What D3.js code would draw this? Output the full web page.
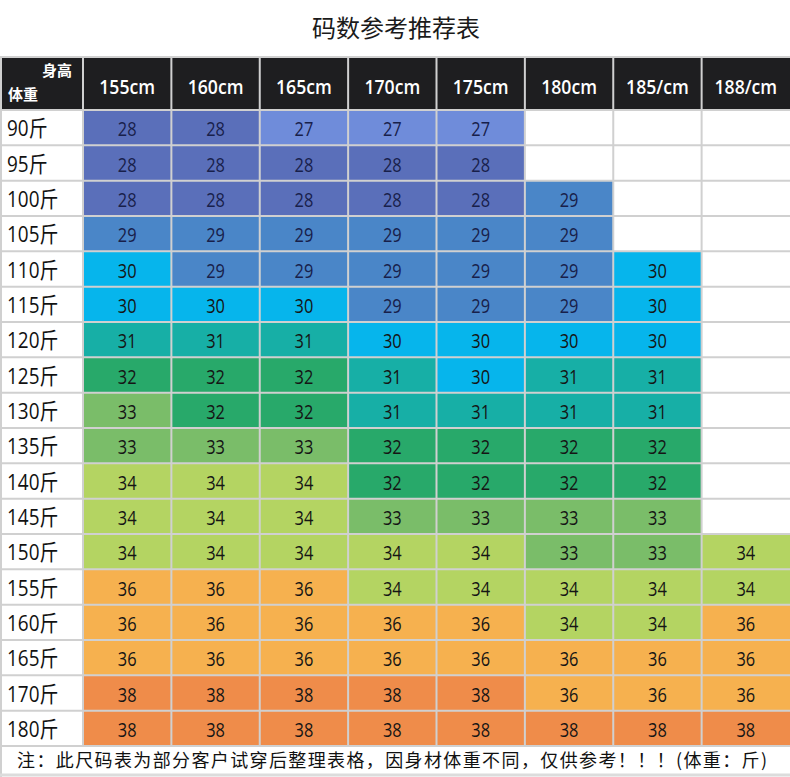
<!DOCTYPE html>
<html>
<head>
<meta charset="utf-8">
<script src="https://cdn.jsdelivr.net/npm/d3@7"></script>
<style>
  html, body { margin: 0; padding: 0; background: #fff; }
  svg { display: block; }
</style>
</head>
<body>
<svg id="chart" width="790" height="777"></svg>
<script>
// ---- data ----
const title = "码数参考推荐表";
const heights = ["155cm", "160cm", "165cm", "170cm", "175cm", "180cm", "185/cm", "188/cm"];
const weights = ["90斤", "95斤", "100斤", "105斤", "110斤", "115斤", "120斤", "125斤", "130斤",
                 "135斤", "140斤", "145斤", "150斤", "155斤", "160斤", "165斤", "170斤", "180斤"];
// null = empty cell
const sizes = [
  [28, 28, 27, 27, 27, null, null, null],
  [28, 28, 28, 28, 28, null, null, null],
  [28, 28, 28, 28, 28, 29, null, null],
  [29, 29, 29, 29, 29, 29, null, null],
  [30, 29, 29, 29, 29, 29, 30, null],
  [30, 30, 30, 29, 29, 29, 30, null],
  [31, 31, 31, 30, 30, 30, 30, null],
  [32, 32, 32, 31, 30, 31, 31, null],
  [33, 32, 32, 31, 31, 31, 31, null],
  [33, 33, 33, 32, 32, 32, 32, null],
  [34, 34, 34, 32, 32, 32, 32, null],
  [34, 34, 34, 33, 33, 33, 33, null],
  [34, 34, 34, 34, 34, 33, 33, 34],
  [36, 36, 36, 34, 34, 34, 34, 34],
  [36, 36, 36, 36, 36, 34, 34, 36],
  [36, 36, 36, 36, 36, 36, 36, 36],
  [38, 38, 38, 38, 38, 36, 36, 36],
  [38, 38, 38, 38, 38, 38, 38, 38]
];
const sizeKeys   = [27, 28, 29, 30, 31, 32, 33, 34, 36, 38];
const sizeColors = ["#6f8cda", "#5a6fba", "#4a86c8", "#06b5ec", "#17afa6",
                    "#28a96a", "#7abd69", "#b4d462", "#f6b14f", "#ef8c4a"];
const cornerTop = "身高";
const cornerBottom = "体重";
const footnote = "注：此尺码表为部分客户试穿后整理表格，因身材体重不同，仅供参考！！！(体重：斤)";

// ---- layout ----
const W = 790, H = 777;
const labelW = 83;
const headTop = 57, headBottom = 110, bodyBottom = 746;
const grid = "#d0d0d0";
const numFont = "'Open Sans', 'Noto Sans CJK SC', sans-serif";
const cjkFont = "'Noto Sans CJK SC', sans-serif";

const svg = d3.select("#chart");

const x = d3.scaleBand().domain(heights).range([labelW, W]).paddingInner(0);
const y = d3.scaleBand().domain(weights).range([headBottom, bodyBottom]).paddingInner(0);
const color = d3.scaleOrdinal().domain(sizeKeys).range(sizeColors);
const blueish = new Set([27, 28, 29]);

// title
svg.append("text")
  .attr("x", W / 2 + 1).attr("y", 37)
  .attr("text-anchor", "middle")
  .style("font-family", cjkFont).style("font-size", "24px").style("fill", "#1a1a1a")
  .text(title);

// header background
svg.append("rect")
  .attr("x", 0).attr("y", headTop).attr("width", W).attr("height", headBottom - headTop)
  .attr("fill", "#1e1e20");

// cells
const cells = [];
sizes.forEach((row, i) => row.forEach((v, j) => cells.push({ w: weights[i], h: heights[j], v })));

svg.append("g").selectAll("rect").data(cells).join("rect")
  .attr("x", d => x(d.h)).attr("y", d => y(d.w))
  .attr("width", x.bandwidth()).attr("height", y.bandwidth())
  .attr("fill", d => d.v == null ? "#ffffff" : color(d.v));

// grid lines
const gl = svg.append("g").attr("stroke", grid).attr("stroke-width", 2);
[headTop, headBottom].concat(weights.map(w => y(w) + y.bandwidth())).forEach(yy => {
  gl.append("line").attr("x1", 0).attr("x2", W).attr("y1", yy).attr("y2", yy);
});
[1, labelW].concat(heights.map(h => x(h))).forEach(xx => {
  gl.append("line").attr("x1", xx).attr("x2", xx).attr("y1", headTop).attr("y2", bodyBottom);
});
gl.append("line").attr("x1", 1).attr("x2", 1).attr("y1", bodyBottom).attr("y2", H);
gl.append("line").attr("x1", 0).attr("x2", W).attr("y1", H - 2).attr("y2", H - 2)
  .attr("stroke-width", 3).attr("stroke", "#dcdcdc");

// header labels
svg.append("g").selectAll("text").data(heights).join("text")
  .attr("transform", d => `translate(${x(d) + x.bandwidth() / 2},${headBottom - 16}) scale(0.86,1)`)
  .attr("text-anchor", "middle")
  .style("font-family", numFont).style("font-size", "20.5px").style("font-weight", "600")
  .style("fill", "#ffffff")
  .text(d => d);

svg.append("text").attr("x", 72).attr("y", 76).attr("text-anchor", "end")
  .style("font-family", cjkFont).style("font-size", "15px").style("font-weight", "bold")
  .style("fill", "#fff").text(cornerTop);
svg.append("text").attr("x", 8).attr("y", 100)
  .style("font-family", cjkFont).style("font-size", "15px").style("font-weight", "bold")
  .style("fill", "#fff").text(cornerBottom);

// row labels
svg.append("g").selectAll("text").data(weights).join("text")
  .attr("transform", d => `translate(7,${y(d) + y.bandwidth() / 2 + 8.5}) scale(0.88,1)`)
  .style("font-family", numFont).style("font-size", "21.5px")
  .style("fill", "#111")
  .text(d => d);

// cell values
svg.append("g").selectAll("text").data(cells.filter(d => d.v != null)).join("text")
  .attr("transform", d => `translate(${x(d.h) + x.bandwidth() / 2},${y(d.w) + y.bandwidth() / 2 + 8.5}) scale(0.8,1)`)
  .attr("text-anchor", "middle")
  .style("font-family", numFont).style("font-size", "20.5px").style("font-weight", "500")
  .style("fill", d => blueish.has(d.v) ? "#18204a" : "#151515")
  .text(d => d.v);

// footnote
svg.append("text")
  .attr("x", 17).attr("y", 767)
  .attr("textLength", 750).attr("lengthAdjust", "spacing")
  .style("font-family", cjkFont).style("font-size", "18px").style("fill", "#111")
  .text(footnote);
</script>
</body>
</html>
